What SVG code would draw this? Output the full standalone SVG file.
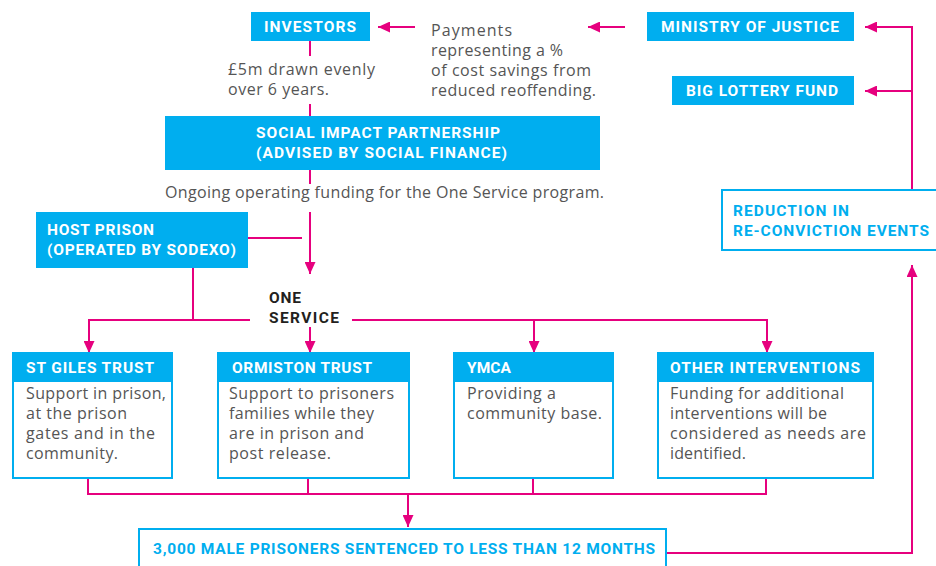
<svg xmlns="http://www.w3.org/2000/svg" width="936" height="566" viewBox="0 0 936 566">
<defs>
<style>
.fill{fill:#00AEEF}
.out{fill:#fff;stroke:#00AEEF;stroke-width:2}
.h{font-family:Roboto,"Liberation Sans",sans-serif;font-weight:700;font-size:15.5px;fill:#fff}
.hb{font-family:Roboto,"Liberation Sans",sans-serif;font-weight:700;font-size:15.5px;fill:#00AEEF}
.hk{font-family:Roboto,"Liberation Sans",sans-serif;font-weight:700;font-size:15.5px;fill:#231F20}
.t{font-family:"Open Sans","Liberation Sans",sans-serif;font-size:16px;fill:#555}
.c{fill:none;stroke:#E6007E;stroke-width:2}
</style>
<marker id="ah" markerUnits="userSpaceOnUse" markerWidth="12" markerHeight="11" refX="12" refY="5.5" orient="auto" viewBox="0 0 12 11">
<path d="M0,0 L12,5.5 L0,11 z" fill="#E6007E"/>
</marker>
</defs>
<rect width="936" height="566" fill="#fff"/>

<g id="connectors">
<line class="c" x1="415" y1="27" x2="378" y2="27" marker-end="url(#ah)"/>
<line class="c" x1="625" y1="27" x2="588" y2="27" marker-end="url(#ah)"/>
<line class="c" x1="310" y1="41" x2="310" y2="56"/>
<line class="c" x1="310" y1="104" x2="310" y2="116"/>
<line class="c" x1="310" y1="170" x2="310" y2="184"/>
<line class="c" x1="310" y1="212" x2="310" y2="274" marker-end="url(#ah)"/>
<line class="c" x1="248" y1="238" x2="302" y2="238"/>
<polyline class="c" points="193,268 193,320 250,320"/>
<polyline class="c" points="89,353 89,320 250,320"/>
<line class="c" x1="89" y1="320" x2="89" y2="353" marker-end="url(#ah)"/>
<line class="c" x1="352" y1="320" x2="767" y2="320"/>
<line class="c" x1="310" y1="327" x2="310" y2="353" marker-end="url(#ah)"/>
<line class="c" x1="534" y1="320" x2="534" y2="353" marker-end="url(#ah)"/>
<line class="c" x1="767" y1="319" x2="767" y2="353" marker-end="url(#ah)"/>
<polyline class="c" points="88,478 88,494 766,494 766,478"/>
<line class="c" x1="308" y1="478" x2="308" y2="494"/>
<line class="c" x1="533" y1="478" x2="533" y2="494"/>
<line class="c" x1="408" y1="494" x2="408" y2="527" marker-end="url(#ah)"/>
<polyline class="c" points="666,553 912,553 912,265" marker-end="url(#ah)"/>
<polyline class="c" points="912,190 912,27 865,27" marker-end="url(#ah)"/>
<line class="c" x1="912" y1="91" x2="865" y2="91" marker-end="url(#ah)"/>
</g>

<g id="investors">
<rect class="fill" x="251" y="12" width="119" height="29"/>
<text class="h" x="264" y="32" textLength="92">INVESTORS</text>
</g>
<g id="payments-label">
<text class="t" x="431" y="36" textLength="81">Payments</text>
<text class="t" x="431" y="56" textLength="132">representing a %</text>
<text class="t" x="431" y="76" textLength="160">of cost savings from</text>
<text class="t" x="431" y="96" textLength="165">reduced reoffending.</text>
</g>
<g id="ministry">
<rect class="fill" x="647" y="12" width="207" height="29"/>
<text class="h" x="661" y="32" textLength="178">MINISTRY OF JUSTICE</text>
</g>
<g id="lottery">
<rect class="fill" x="672" y="76" width="182" height="29"/>
<text class="h" x="686" y="96" textLength="152">BIG LOTTERY FUND</text>
</g>
<g id="funding-label">
<text class="t" x="228" y="75" textLength="147">£5m drawn evenly</text>
<text class="t" x="228" y="95" textLength="101">over 6 years.</text>
</g>
<g id="sip">
<rect class="fill" x="165" y="116" width="435" height="54"/>
<text class="h" x="256" y="138" textLength="244">SOCIAL IMPACT PARTNERSHIP</text>
<text class="h" x="256" y="158" textLength="251">(ADVISED BY SOCIAL FINANCE)</text>
</g>
<g id="ongoing-label">
<text class="t" x="165" y="198" textLength="439">Ongoing operating funding for the One Service program.</text>
</g>
<g id="host-prison">
<rect class="fill" x="36" y="212" width="212" height="56"/>
<text class="h" x="47" y="235" textLength="107">HOST PRISON</text>
<text class="h" x="47" y="255" textLength="189">(OPERATED BY SODEXO)</text>
</g>
<g id="reduction">
<rect class="out" x="722" y="190" width="220" height="60"/>
<text class="hb" x="733" y="216" textLength="116">REDUCTION IN</text>
<text class="hb" x="733" y="236" textLength="196">RE-CONVICTION EVENTS</text>
</g>
<g id="one-service">
<text class="hk" x="269" y="303" textLength="32">ONE</text>
<text class="hk" x="269" y="323" textLength="70">SERVICE</text>
</g>
<g id="st-giles">
<rect class="out" x="13" y="353" width="159" height="125"/>
<rect class="fill" x="12" y="353" width="161" height="29"/>
<text class="h" x="26" y="373" textLength="128">ST GILES TRUST</text>
<text class="t" x="26" y="399" textLength="140">Support in prison,</text>
<text class="t" x="26" y="419" textLength="101">at the prison</text>
<text class="t" x="26" y="439" textLength="129">gates and in the</text>
<text class="t" x="26" y="459" textLength="92">community.</text>
</g>
<g id="ormiston">
<rect class="out" x="218" y="353" width="191" height="125"/>
<rect class="fill" x="217" y="353" width="193" height="29"/>
<text class="h" x="232" y="373" textLength="140">ORMISTON TRUST</text>
<text class="t" x="229" y="399" textLength="165">Support to prisoners</text>
<text class="t" x="229" y="419" textLength="145">families while they</text>
<text class="t" x="229" y="439" textLength="135">are in prison and</text>
<text class="t" x="229" y="459" textLength="102">post release.</text>
</g>
<g id="ymca">
<rect class="out" x="454" y="353" width="159" height="125"/>
<rect class="fill" x="453" y="353" width="161" height="29"/>
<text class="h" x="467" y="373" textLength="44">YMCA</text>
<text class="t" x="467" y="399" textLength="89">Providing a</text>
<text class="t" x="467" y="419" textLength="135">community base.</text>
</g>
<g id="other">
<rect class="out" x="658" y="353" width="215" height="125"/>
<rect class="fill" x="657" y="353" width="217" height="29"/>
<text class="h" x="670" y="373" textLength="190">OTHER INTERVENTIONS</text>
<text class="t" x="670" y="399" textLength="174">Funding for additional</text>
<text class="t" x="670" y="419" textLength="157">interventions will be</text>
<text class="t" x="670" y="439" textLength="196">considered as needs are</text>
<text class="t" x="670" y="459" textLength="76">identified.</text>
</g>
<g id="prisoners">
<rect class="out" x="139" y="529" width="527" height="50"/>
<text class="hb" x="153" y="554" textLength="502">3,000 MALE PRISONERS SENTENCED TO LESS THAN 12 MONTHS</text>
</g>
</svg>
